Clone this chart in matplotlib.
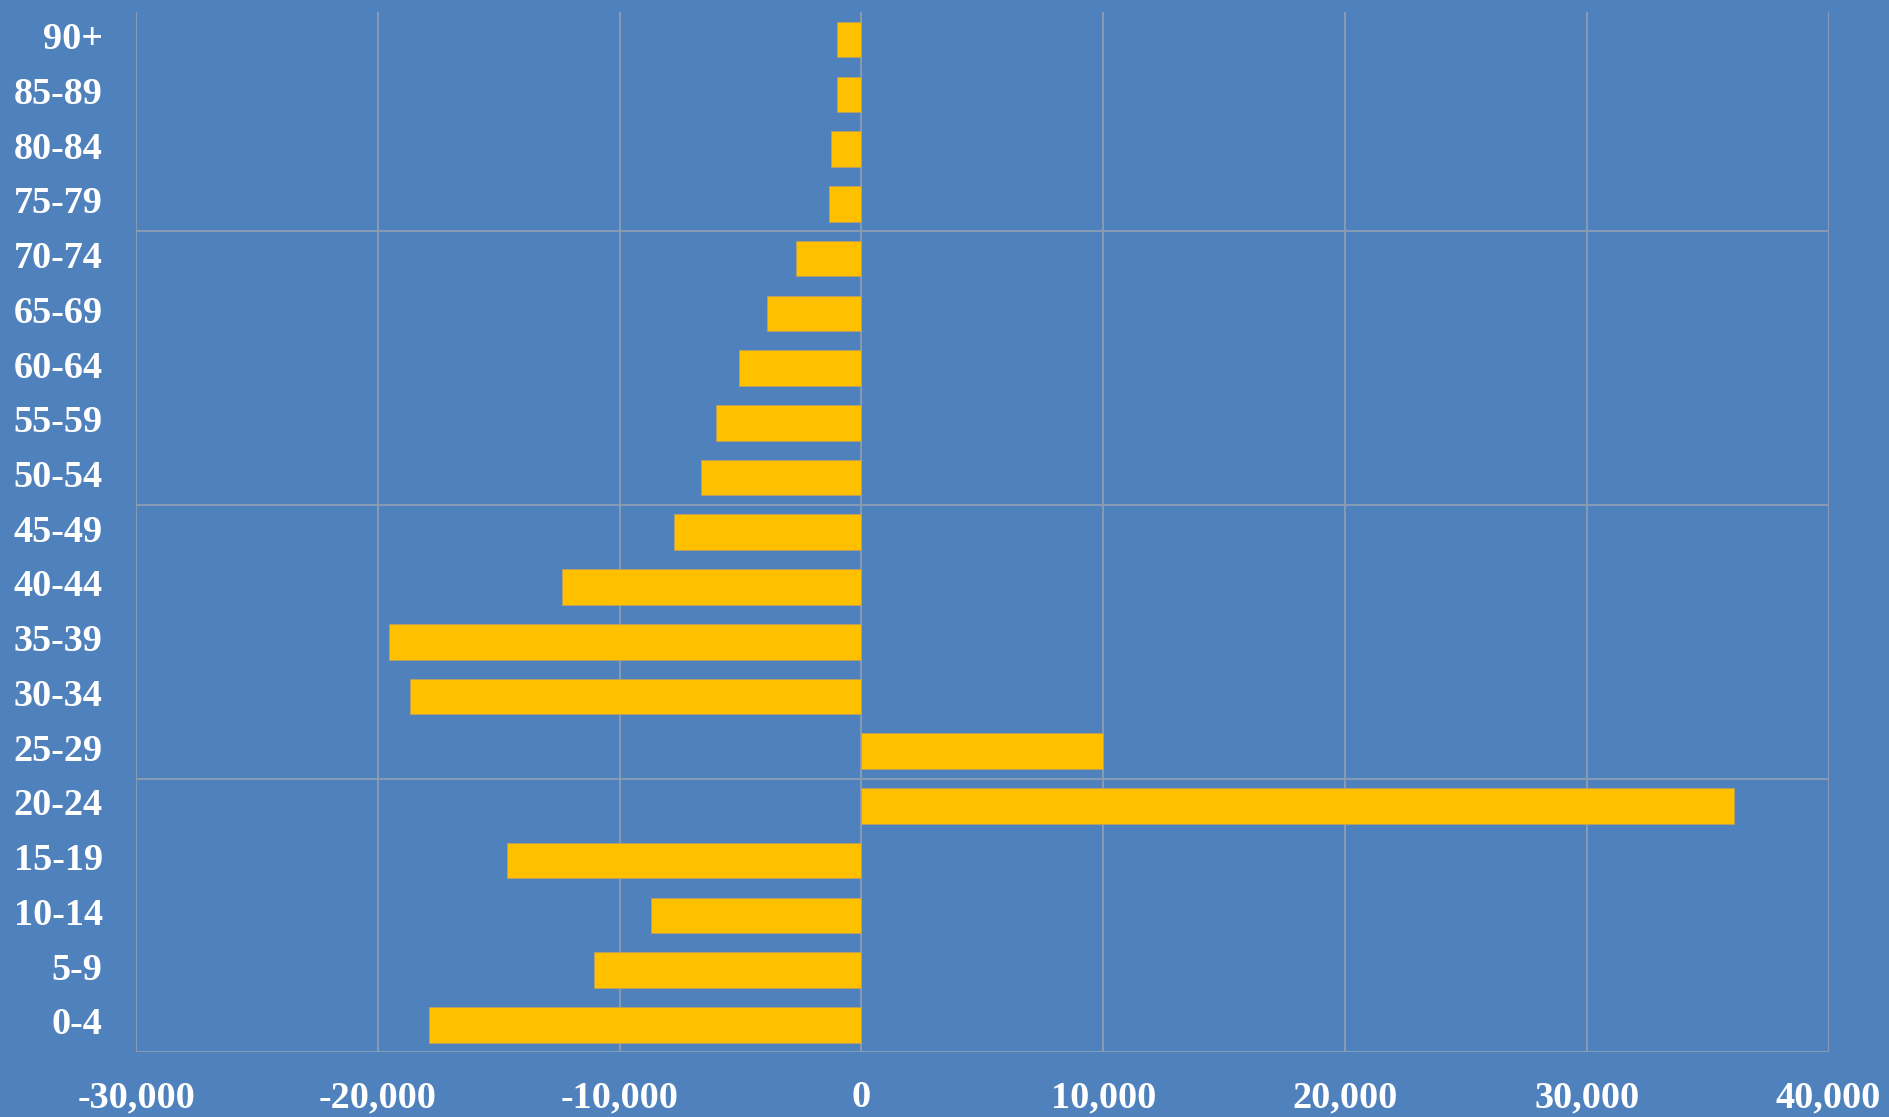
import matplotlib.pyplot as plt
import matplotlib.transforms as mtransforms
import numpy as np

ages = ['0-4', '5-9', '10-14', '15-19', '20-24', '25-29', '30-34', '35-39',
        '40-44', '45-49', '50-54', '55-59', '60-64', '65-69', '70-74',
        '75-79', '80-84', '85-89', '90+']
change = [-17900, -11050, -8700, -14650, 36100, 10000, -18650, -19550,
          -12400, -7750, -6650, -6000, -5050, -3900, -2700,
          -1350, -1250, -1000, -1000]
xticks = [-30000, -20000, -10000, 0, 10000, 20000, 30000, 40000]

bg = '#4F81BD'
grid_col = '#8E9DB2'

plt.rcParams['font.family'] = ['Liberation Serif', 'DejaVu Serif']

fig = plt.figure(figsize=(18.89, 11.17), dpi=100, facecolor=bg)
ax = fig.add_axes([0.072, 0.058, 0.896, 0.931])
ax.set_facecolor(bg)

y = np.arange(len(ages))
ax.barh(y, change, height=0.65, color='#FFC000', edgecolor='#B8A060', linewidth=0.6, zorder=3)

ax.set_xlim(-30000, 40000)
ax.set_ylim(-0.5, len(ages) - 0.5)
ax.set_xticks(xticks)
ax.set_xticklabels(['{:,}'.format(v) for v in xticks])
ax.set_yticks(y)
ax.set_yticklabels(ages)
# Excel-style horizontal gridlines every 5 categories
ax.set_yticks([-0.5, 4.5, 9.5, 14.5], minor=True)

ax.grid(axis='x', which='major', color=grid_col, linewidth=1.3, zorder=0)
ax.grid(axis='y', which='minor', color=grid_col, linewidth=1.3, zorder=0)

for s in ax.spines.values():
    s.set_visible(False)

ax.tick_params(axis='both', which='both', length=0, colors='white', labelsize=27.5)
ax.tick_params(axis='x', pad=20)
ax.tick_params(axis='y', pad=24)
for lbl in ax.get_xticklabels() + ax.get_yticklabels():
    lbl.set_fontweight('bold')
shift = mtransforms.ScaledTranslation(0, 0.04, fig.dpi_scale_trans)
for lbl in ax.get_yticklabels():
    lbl.set_va('center_baseline')
    lbl.set_transform(lbl.get_transform() + shift)

fig.savefig('out.png', dpi=100, facecolor=bg)
